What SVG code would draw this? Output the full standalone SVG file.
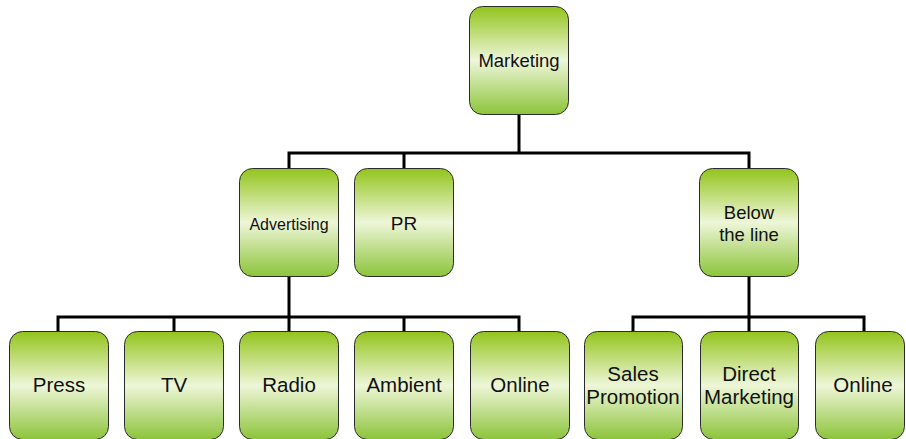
<svg xmlns="http://www.w3.org/2000/svg" width="906" height="439" viewBox="0 0 906 439">
<defs>
<linearGradient id="g" x1="0" y1="0" x2="0" y2="1">
<stop offset="0" stop-color="#93c41c"/>
<stop offset="0.5" stop-color="#eef6d8"/>
<stop offset="1" stop-color="#8cc43a"/>
</linearGradient>
</defs>
<style>
.box{fill:url(#g);stroke:#2b2b2b;stroke-width:1}
.t{font-family:"Liberation Sans",Arial,sans-serif;fill:#111;text-anchor:middle}
.c{fill:none;stroke:#000;stroke-width:3;stroke-linejoin:miter}
</style>
<rect width="906" height="439" fill="#fff"/>
<g id="connectors">
<path class="c" d="M519,114 V153 M289,168 V153 H749 V168 M404,153 V168"/>
<path class="c" d="M289,277 V317 M58,331 V317 H519 V331 M174,317 V331 M289,317 V331 M404,317 V331"/>
<path class="c" d="M749,277 V317 M633,331 V317 H864 V331 M749,317 V331"/>
</g>
<g id="marketing"><rect class="box" x="469.5" y="6.5" width="99" height="108" rx="13"/><text class="t" x="519" y="67" font-size="18.5">Marketing</text></g>
<g id="advertising"><rect class="box" x="239.5" y="168.5" width="99" height="108" rx="13"/><text class="t" x="289" y="230" font-size="16">Advertising</text></g>
<g id="pr"><rect class="box" x="354.5" y="168.5" width="99" height="108" rx="13"/><text class="t" x="404" y="230" font-size="19">PR</text></g>
<g id="below"><rect class="box" x="699.5" y="168.5" width="99" height="108" rx="13"/><text class="t" x="749" y="219" font-size="18.5">Below</text><text class="t" x="749" y="241" font-size="18.5">the line</text></g>
<g id="press"><rect class="box" x="9.5" y="331.5" width="99" height="108" rx="13"/><text class="t" x="59" y="392" font-size="20.5">Press</text></g>
<g id="tv"><rect class="box" x="124.5" y="331.5" width="99" height="108" rx="13"/><text class="t" x="174" y="392" font-size="20.5">TV</text></g>
<g id="radio"><rect class="box" x="239.5" y="331.5" width="99" height="108" rx="13"/><text class="t" x="289" y="392" font-size="20.5">Radio</text></g>
<g id="ambient"><rect class="box" x="354.5" y="331.5" width="99" height="108" rx="13"/><text class="t" x="404" y="392" font-size="20.5">Ambient</text></g>
<g id="online1"><rect class="box" x="470.5" y="331.5" width="99" height="108" rx="13"/><text class="t" x="520" y="392" font-size="20.5">Online</text></g>
<g id="sales"><rect class="box" x="584.5" y="331.5" width="98" height="108" rx="13"/><text class="t" x="633" y="381" font-size="20.5">Sales</text><text class="t" x="633" y="404" font-size="20.5">Promotion</text></g>
<g id="direct"><rect class="box" x="700.5" y="331.5" width="98" height="108" rx="13"/><text class="t" x="749" y="381" font-size="20.5">Direct</text><text class="t" x="749" y="404" font-size="20.5">Marketing</text></g>
<g id="online2"><rect class="box" x="815.5" y="331.5" width="89" height="108" rx="13"/><text class="t" x="863" y="392" font-size="20.5">Online</text></g>
</svg>
